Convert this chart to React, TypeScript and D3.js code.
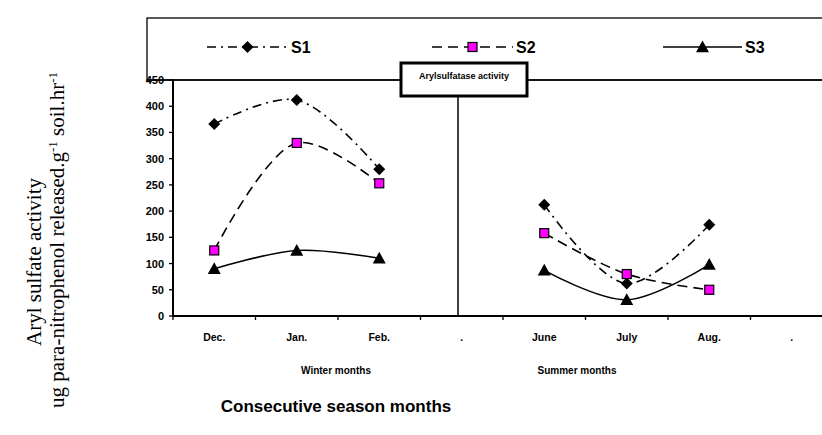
import React from "react";
import * as d3 from "d3";

const categories = ["Dec.", "Jan.", "Feb.", ".", "June", "July", "Aug.", ". "];
const winterMonths = ["Dec.", "Jan.", "Feb."];
const summerMonths = ["June", "July", "Aug."];
const s1Winter = [366, 412, 280];
const s1Summer = [212, 62, 174];
const s2Winter = [125, 330, 253];
const s2Summer = [158, 80, 50];
const s3Winter = [90, 125, 110];
const s3Summer = [87, 31, 98];
const yTicks = [0, 50, 100, 150, 200, 250, 300, 350, 400, 450];

const W = 822;
const H = 435;
const plotLeft = 173;
const plotTop = 80;
const plotBottom = 316;
const band = 82.5;

export default function App() {
  const x = d3
    .scaleBand<string>()
    .domain(categories)
    .range([plotLeft, plotLeft + band * categories.length])
    .paddingInner(0)
    .paddingOuter(0);
  const cx = (c: string) => (x(c) as number) + x.bandwidth() / 2;
  const y = d3.scaleLinear().domain([0, 450]).range([plotBottom, plotTop]);

  const line = d3
    .line<[string, number]>()
    .x((d) => cx(d[0]))
    .y((d) => y(d[1]))
    .curve(d3.curveCatmullRom.alpha(0.5));

  const zip = (cs: string[], vs: number[]) => cs.map((c, i) => [c, vs[i]] as [string, number]);

  const series = [
    { name: "S1", w: s1Winter, s: s1Summer, dash: "9,5,2,5", marker: "diamond" },
    { name: "S2", w: s2Winter, s: s2Summer, dash: "10,6", marker: "square" },
    { name: "S3", w: s3Winter, s: s3Summer, dash: "", marker: "triangle" },
  ];

  const marker = (type: string, px: number, py: number, key: string) => {
    if (type === "diamond") {
      const r = 6;
      return (
        <path
          key={key}
          d={`M${px},${py - r}L${px + r},${py}L${px},${py + r}L${px - r},${py}Z`}
          fill="#000"
        />
      );
    }
    if (type === "square") {
      const r = 4.5;
      return (
        <rect key={key} x={px - r} y={py - r} width={2 * r} height={2 * r} fill="#FF00FF" stroke="#000" strokeWidth={1.2} />
      );
    }
    const r = 6.5;
    return (
      <path
        key={key}
        d={`M${px},${py - r}L${px + r},${py + r * 0.8}L${px - r},${py + r * 0.8}Z`}
        fill="#000"
      />
    );
  };

  const legendItems = [
    { name: "S1", x1: 207, x2: 288, dash: "9,5,2,5", marker: "diamond" },
    { name: "S2", x1: 432, x2: 513, dash: "10,6", marker: "square" },
    { name: "S3", x1: 663, x2: 742, dash: "", marker: "triangle" },
  ];
  const legendY = 47;
  const sepX = 458;

  return (
    <svg width={W} height={H} style={{ position: "absolute", left: 0, top: 0, background: "#fff" }}>
      <rect x={0} y={0} width={W} height={H} fill="#fff" />
      {/* legend box */}
      <rect x={147} y={18} width={W} height={plotTop - 18} fill="none" stroke="#000" strokeWidth={1.3} />
      {legendItems.map((l) => {
        const mx = (l.x1 + l.x2) / 2;
        return (
          <g key={l.name}>
            <line x1={l.x1} x2={l.x2} y1={legendY} y2={legendY} stroke="#000" strokeWidth={1.5} strokeDasharray={l.dash} />
            {marker(l.marker, mx, legendY, "lm" + l.name)}
            <text x={l.x2 + 3} y={legendY + 6} fontFamily="Liberation Sans, Arial, sans-serif" fontWeight="bold" fontSize={16}>
              {l.name}
            </text>
          </g>
        );
      })}

      {/* top line of plot */}
      <line x1={147} x2={W} y1={plotTop} y2={plotTop} stroke="#000" strokeWidth={1.3} />

      {/* y axis */}
      <line x1={plotLeft} x2={plotLeft} y1={plotTop} y2={plotBottom + 1} stroke="#000" strokeWidth={2} />
      {yTicks.map((t) => (
        <g key={t}>
          <line x1={plotLeft - 4} x2={plotLeft} y1={y(t)} y2={y(t)} stroke="#000" strokeWidth={1.3} />
          <text
            x={plotLeft - 9}
            y={y(t) + 4}
            textAnchor="end"
            fontFamily="Liberation Sans, Arial, sans-serif"
            fontWeight="bold"
            fontSize={11}
          >
            {t}
          </text>
        </g>
      ))}

      {/* x axis */}
      <line x1={plotLeft} x2={W} y1={plotBottom} y2={plotBottom} stroke="#000" strokeWidth={2} />
      {categories.map((c, i) => (
        <g key={"xc" + i}>
          <line x1={x(c) as number} x2={x(c) as number} y1={plotBottom} y2={plotBottom + 4} stroke="#000" strokeWidth={1.3} />
          <text
            x={cx(c)}
            y={plotBottom + 25}
            textAnchor="middle"
            fontFamily="Liberation Sans, Arial, sans-serif"
            fontWeight="bold"
            fontSize={10.5}
          >
            {c.trim()}
          </text>
        </g>
      ))}

      {/* separator line */}
      <line x1={sepX} x2={sepX} y1={96} y2={plotBottom} stroke="#000" strokeWidth={1.5} />
      <rect x={401} y={63} width={126} height={33} fill="#fff" stroke="#000" strokeWidth={3} />
      <text x={464} y={79} textAnchor="middle" fontFamily="Liberation Sans, Arial, sans-serif" fontSize={9} fontWeight="bold">
        Arylsulfatase activity
      </text>

      {/* series */}
      {series.map((s) => (
        <g key={s.name}>
          <path d={line(zip(winterMonths, s.w)) || ""} fill="none" stroke="#000" strokeWidth={1.6} strokeDasharray={s.dash} />
          <path d={line(zip(summerMonths, s.s)) || ""} fill="none" stroke="#000" strokeWidth={1.6} strokeDasharray={s.dash} />
          {zip(winterMonths, s.w).map((d, i) => marker(s.marker, cx(d[0]), y(d[1]), s.name + "w" + i))}
          {zip(summerMonths, s.s).map((d, i) => marker(s.marker, cx(d[0]), y(d[1]), s.name + "s" + i))}
        </g>
      ))}

      {/* group labels */}
      <text x={336} y={374} textAnchor="middle" fontFamily="Liberation Sans, Arial, sans-serif" fontWeight="bold" fontSize={10}>
        Winter months
      </text>
      <text x={577} y={374} textAnchor="middle" fontFamily="Liberation Sans, Arial, sans-serif" fontWeight="bold" fontSize={10}>
        Summer months
      </text>
      <text x={336} y={412} textAnchor="middle" fontFamily="Liberation Sans, Arial, sans-serif" fontWeight="bold" fontSize={17}>
        Consecutive season months
      </text>

      {/* y axis title */}
      <g fontFamily="Liberation Serif, Times New Roman, serif" fontSize={21}>
        <text transform="translate(41,262) rotate(-90)" textAnchor="middle">
          Aryl sulfate activity
        </text>
        <text transform="translate(64,240) rotate(-90)" textAnchor="middle">
          ug para-nitrophenol released.g
          <tspan fontSize={13} dy={-7}>-1</tspan>
          <tspan dy={7}> soil.hr</tspan>
          <tspan fontSize={13} dy={-7}>-1</tspan>
        </text>
      </g>
    </svg>
  );
}
